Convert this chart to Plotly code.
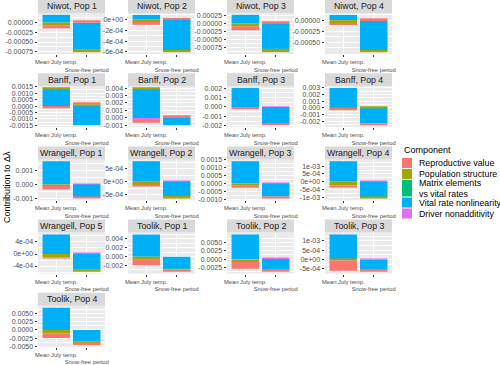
import plotly.graph_objects as go

# ---------------- data ----------------
panel_titles = [
    "Niwot, Pop 1", "Niwot, Pop 2", "Niwot, Pop 3", "Niwot, Pop 4",
    "Banff, Pop 1", "Banff, Pop 2", "Banff, Pop 3", "Banff, Pop 4",
    "Wrangell, Pop 1", "Wrangell, Pop 2", "Wrangell, Pop 3", "Wrangell, Pop 4",
    "Wrangell, Pop 5", "Toolik, Pop 1", "Toolik, Pop 2", "Toolik, Pop 3",
    "Toolik, Pop 4",
]
drivers = ["Mean July temp.", "Snow-free period"]
driver_ticktext = ["Mean July temp.", "<br>Snow-free period"]

component_names = ["Reproductive value", "Population structure",
                   "Matrix elements<br>vs vital rates", "Vital rate nonlinearity",
                   "Driver nonadditivity"]
component_colors = ["#F8766D", "#A3A500", "#00BF7D", "#00B0F6", "#E76BF3"]

# (Mean July temp., Snow-free period) for each panel
reproductive_value = [
    (-7e-5, 6e-5), (-3.6e-5, 2.5e-5), (-1.2e-4, 6e-5), (-4e-5, 4e-5),
    (-1.7e-4, 1.2e-4), (-3.5e-4, 2.0e-4), (-1.5e-4, -1.5e-4), (-1.5e-4, -3e-4),
    (-2.5e-4, -1.2e-4), (-4e-5, 0.0), (-1.3e-4, -1.3e-4), (-9e-5, 0.0),
    (-3e-5, 0.0), (-1.25e-3, -5e-4), (-2.0e-3, -8e-4), (-5.5e-4, -1e-4),
    (-1.3e-3, -4e-4),
]
population_structure = [
    (-7.7e-5, -6e-5), (-6e-5, -3e-5), (-1e-4, -1e-4), (-7e-5, -4e-5),
    (4e-5, 1.5e-4), (1e-4, 0.0), (0.0, 0.0), (-1e-4, 1e-4),
    (-1.2e-4, 0.0), (-1.3e-4, -1e-4), (-1.5e-4, 0.0), (-2.4e-4, -1e-4),
    (-1.2e-4, -7e-5), (-7e-4, 0.0), (-8e-4, 0.0), (-5e-5, 0.0),
    (-1.1e-3, -7e-4),
]
matrix_elements = [
    (0.0, 0.0), (0.0, 0.0), (0.0, 0.0), (0.0, 0.0),
    (0.0, 0.0), (0.0, 0.0), (0.0, 0.0), (0.0, 5e-5),
    (0.0, 0.0), (0.0, 0.0), (0.0, 0.0), (0.0, 0.0),
    (0.0, 0.0), (0.0, -2e-4), (0.0, 0.0), (0.0, 0.0),
    (0.0, 0.0),
]
vital_rate_nonlinearity = [
    (2.0e-4, -7.0e-4), (9e-5, -5.75e-4), (2.6e-4, -8e-4), (1.2e-4, -6.9e-4),
    (1.36e-3, -1.5e-3), (3.9e-3, -1.0e-3), (2.0e-3, -1.8e-3), (2.95e-3, -2.3e-3),
    (1.68e-3, -9e-4), (7.9e-4, -5.5e-4), (1.4e-3, -8.3e-4), (1.31e-3, -9.8e-4),
    (6.5e-4, -5.2e-4), (5.0e-3, -2.7e-3), (7.4e-3, -3.0e-3), (1.34e-3, -5.5e-4),
    (6.7e-3, -3.4e-3),
]
driver_nonadditivity = [
    (0.0, 0.0), (0.0, 0.0), (0.0, 0.0), (0.0, 0.0),
    (0.0, 0.0), (-3e-4, 1.5e-4), (-5e-5, 5e-5), (0.0, 0.0),
    (0.0, 5e-5), (0.0, 2e-5), (0.0, 4e-5), (0.0, 5e-5),
    (0.0, 4e-5), (0.0, 0.0), (-1e-4, 2e-4), (0.0, 5e-5),
    (0.0, 0.0),
]

y_tick_labels = [
    ["0.00000", "-0.00025", "-0.00050", "-0.00075"],
    ["0e+00", "-2e-04", "-4e-04", "-6e-04"],
    ["0.00025", "0.00000", "-0.00025", "-0.00050", "-0.00075", "-0.00100"],
    ["0.00000", "-0.00025", "-0.00050"],
    ["0.0015", "0.0010", "0.0005", "0.0000", "-0.0005", "-0.0010", "-0.0015"],
    ["0.004", "0.003", "0.002", "0.001", "0.000", "-0.001"],
    ["0.002", "0.001", "0.000", "-0.001", "-0.002"],
    ["0.003", "0.002", "0.001", "0.000", "-0.001", "-0.002"],
    ["0.001", "0.000", "-0.001"],
    ["5e-04", "0e+00", "-5e-04"],
    ["0.0015", "0.0010", "0.0005", "0.0000", "-0.0005", "-0.0010"],
    ["1e-03", "5e-04", "0e+00", "-5e-04", "-1e-03"],
    ["4e-04", "0e+00", "-4e-04"],
    ["0.004", "0.002", "0.000", "-0.002"],
    ["0.0050", "0.0025", "0.0000", "-0.0025"],
    ["1e-03", "5e-04", "0e+00", "-5e-04"],
    ["0.0050", "0.0025", "0.0000", "-0.0025", "-0.0050"],
]

# ---------------- layout constants ----------------
W, H = 500, 365
col_x = [(38, 105), (128, 195), (227, 294), (325, 392)]
first_bottom, row_step, panel_h, strip_h = 54, 73.2, 41, 13
FONT = "Liberation Sans, Arial, sans-serif"

series = [reproductive_value, population_structure, matrix_elements,
          vital_rate_nonlinearity, driver_nonadditivity]

fig = go.Figure()
layout = {}
shapes = []
annotations = []

# stacking order: last component nearest zero (as in ggplot position_stack)
stack_order = [4, 3, 2, 1, 0]

for i, title in enumerate(panel_titles):
    r, c = divmod(i, 4)
    x0, x1 = col_x[c]
    bottom = first_bottom + row_step * r
    top = bottom - panel_h
    suffix = "" if i == 0 else str(i + 1)
    xa, ya = "x" + suffix, "y" + suffix

    for k in stack_order:
        fig.add_trace(go.Bar(
            x=drivers, y=list(series[k][i]), xaxis=xa, yaxis=ya,
            marker=dict(color=component_colors[k], line=dict(width=0)),
            width=0.9, name=component_names[k], showlegend=False,
        ))

    # y range from stacked extents, 5% expansion
    pos = [sum(max(s[i][j], 0) for s in series) for j in range(2)]
    neg = [sum(min(s[i][j], 0) for s in series) for j in range(2)]
    hi, lo = max(pos + [0]), min(neg + [0])
    span = hi - lo
    yr = [lo - 0.05 * span, hi + 0.05 * span]

    tv = [float(t) for t in y_tick_labels[i]]
    st = sorted(tv)
    step = st[1] - st[0]
    minor_vals = [st[0] - step / 2] + [(a + b) / 2 for a, b in zip(st[:-1], st[1:])] + [st[-1] + step / 2]

    layout["xaxis" + suffix] = dict(
        domain=[x0 / W, x1 / W], anchor=ya, type="category", automargin=False,
        range=[-0.6, 1.6], tickmode="array", tickvals=drivers, ticktext=driver_ticktext,
        tickangle=0,
        showgrid=True, gridcolor="white", gridwidth=1, zeroline=False,
        ticks="outside", ticklen=2, tickcolor="#333333", tickwidth=0.8,
        tickfont=dict(family=FONT, size=5.8, color="#4D4D4D"), showline=False,
        fixedrange=True,
    )
    layout["yaxis" + suffix] = dict(
        domain=[1 - bottom / H, 1 - top / H], anchor=xa, range=yr, automargin=False,
        tickmode="array", tickvals=tv, ticktext=y_tick_labels[i],
        showgrid=True, gridcolor="white", gridwidth=1, zeroline=False,
        minor=dict(tickmode="array", tickvals=minor_vals, showgrid=True,
                   gridcolor="white", gridwidth=0.5, ticks=""),
        ticks="outside", ticklen=2.5, tickcolor="#333333", tickwidth=0.8,
        tickfont=dict(family=FONT, size=7, color="#4D4D4D"), showline=False,
        fixedrange=True,
    )

    # facet strip
    shapes.append(dict(type="rect", xref="paper", yref="paper",
                       x0=x0 / W, x1=x1 / W, y0=1 - top / H, y1=1 - (top - strip_h) / H,
                       fillcolor="#D9D9D9", line=dict(width=0), layer="below"))
    annotations.append(dict(text=title, xref="paper", yref="paper",
                            x=(x0 + x1) / 2 / W, y=1 - (top - strip_h / 2) / H,
                            xanchor="center", yanchor="middle", showarrow=False,
                            font=dict(family=FONT, size=8.8, color="#1A1A1A")))

# y-axis title
annotations.append(dict(text="Contribution to Δλ", xref="paper", yref="paper",
                        x=7 / W, y=1 - 187 / H, textangle=-90, showarrow=False,
                        xanchor="center", yanchor="middle",
                        font=dict(family=FONT, size=9, color="black")))

# legend (drawn as keys + text)
lx, ly = 402, 145
annotations.append(dict(text="Component", xref="paper", yref="paper",
                        x=lx / W, y=1 - (ly + 5) / H, xanchor="left", yanchor="middle",
                        showarrow=False, font=dict(family=FONT, size=9, color="black")))
yk = ly + 13
for name, col in zip(component_names, component_colors):
    h = 16.5 if "<br>" in name else 10
    shapes.append(dict(type="rect", xref="paper", yref="paper",
                       x0=lx / W, x1=(lx + 10) / W, y0=1 - (yk + h) / H, y1=1 - yk / H,
                       fillcolor=col, line=dict(width=0)))
    annotations.append(dict(text=name, xref="paper", yref="paper", align="left",
                            x=(lx + 15) / W, y=1 - (yk + h / 2) / H,
                            xanchor="left", yanchor="middle", showarrow=False,
                            font=dict(family=FONT, size=8.8, color="black")))
    yk += h + 1

fig.update_layout(
    width=W, height=H, margin=dict(l=0, r=0, t=0, b=0, autoexpand=False),
    paper_bgcolor="white", plot_bgcolor="#EBEBEB",
    barmode="relative", bargap=0.1, showlegend=False,
    shapes=shapes, annotations=annotations, **layout,
)

fig.write_html("out.html", config={"displayModeBar": False},
               post_script="document.body.style.margin='0px';")
